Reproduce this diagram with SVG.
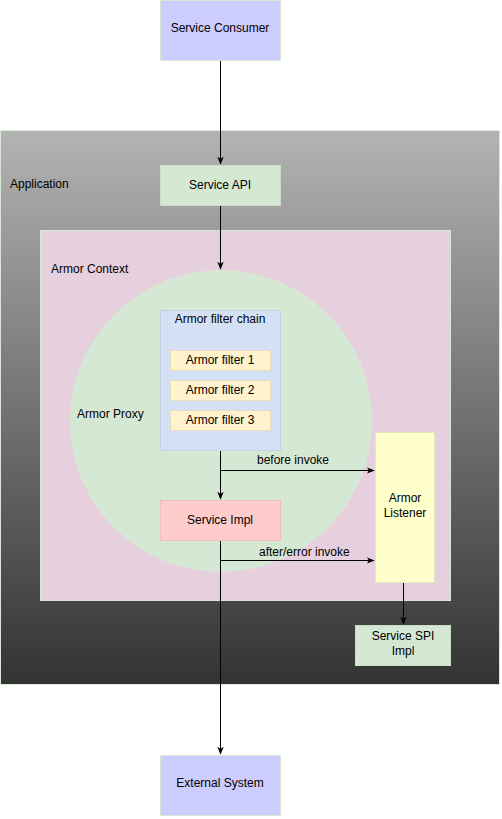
<svg xmlns="http://www.w3.org/2000/svg" width="502" height="819" viewBox="0 0 502 819">
<style>
text{font-family:"Liberation Sans",Arial,sans-serif;font-size:12px;fill:#000}
.c{text-anchor:middle}
.e{stroke:#000;stroke-width:1;fill:none}
</style>
<defs>
<linearGradient id="g" x1="0" y1="0" x2="0" y2="1">
<stop offset="0" stop-color="#b3b3b3"/>
<stop offset="1" stop-color="#333333"/>
</linearGradient>
<marker id="a" viewBox="0 0 10 10" refX="9" refY="5" markerWidth="8" markerHeight="8" markerUnits="userSpaceOnUse" orient="auto">
<path d="M0,1 L10,5 L0,9 L2.5,5 Z" fill="#000"/>
</marker>
</defs>
<g id="application"><rect x="0.5" y="130.5" width="499" height="554" fill="url(#g)" stroke="#d5e8d4"/><text x="10" y="188">Application</text></g>
<g id="armor-context"><rect x="40.5" y="230.5" width="410" height="370" fill="#e6d0de" stroke="#d5e8d4"/><text x="51" y="273">Armor Context</text></g>
<g id="armor-proxy"><circle cx="221" cy="421" r="151" fill="#d5e8d4"/><text x="77" y="418">Armor Proxy</text></g>
<g id="service-consumer"><rect x="160.5" y="0.5" width="120" height="60" fill="#ccccff" stroke="#d5e8d4"/><text class="c" x="220" y="32">Service Consumer</text></g>
<g id="service-api"><rect x="160.5" y="165.5" width="120" height="40" fill="#d5e8d4" stroke="#c8dcc7"/><text class="c" x="220" y="189">Service API</text></g>
<g id="filter-chain"><rect x="160.5" y="310.5" width="120" height="140" fill="#d4e1f5" stroke="#c6d2e4"/><text class="c" x="220" y="323">Armor filter chain</text></g>
<g id="filter-1"><rect x="170.5" y="350.5" width="100" height="20" fill="#fff2cc" stroke="#e8dcc0"/><text class="c" x="220" y="364">Armor filter 1</text></g>
<g id="filter-2"><rect x="170.5" y="380.5" width="100" height="20" fill="#fff2cc" stroke="#e8dcc0"/><text class="c" x="220" y="394">Armor filter 2</text></g>
<g id="filter-3"><rect x="170.5" y="410.5" width="100" height="20" fill="#fff2cc" stroke="#e8dcc0"/><text class="c" x="220" y="424">Armor filter 3</text></g>
<g id="service-impl"><rect x="160.5" y="500.5" width="120" height="40" fill="#ffcccc" stroke="#eebfbf"/><text class="c" x="220" y="524">Service Impl</text></g>
<g id="armor-listener"><rect x="375.5" y="432.5" width="59" height="150" fill="#ffffcc" stroke="#e6e6c0"/><text class="c" x="405" y="502">Armor</text><text class="c" x="405" y="517">Listener</text></g>
<g id="service-spi-impl"><rect x="355.5" y="625.5" width="95" height="40" fill="#d5e8d4" stroke="#c8dcc7"/><text class="c" x="403" y="640">Service SPI</text><text class="c" x="403" y="655">Impl</text></g>
<g id="external-system"><rect x="160.5" y="755.5" width="120" height="60" fill="#ccccff" stroke="#d5e8d4"/><text class="c" x="220" y="787">External System</text></g>
<g id="connectors">
<path class="e" d="M220.5,61 V164" marker-end="url(#a)"/>
<path class="e" d="M220.5,206 V269" marker-end="url(#a)"/>
<path class="e" d="M220.5,451 V499" marker-end="url(#a)"/>
<path class="e" d="M220.5,470.5 H374" marker-end="url(#a)"/>
<text x="257" y="464">before invoke</text>
<path class="e" d="M220.5,541 V754" marker-end="url(#a)"/>
<path class="e" d="M220.5,560.5 H374" marker-end="url(#a)"/>
<text x="259" y="556">after/error invoke</text>
<path class="e" d="M403.5,583 V624" marker-end="url(#a)"/>
</g>
</svg>
